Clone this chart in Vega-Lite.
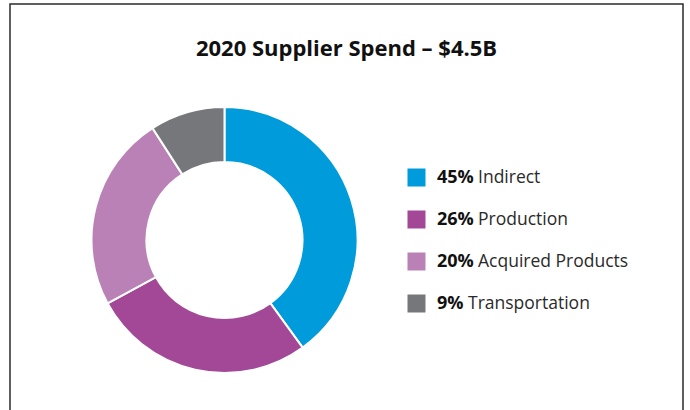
{
  "$schema": "https://vega.github.io/schema/vega-lite/v6.json",
  "width": 673,
  "height": 472,
  "autosize": {"type": "none"},
  "padding": {"left": 10, "top": 4, "right": 7, "bottom": 0},
  "background": "white",
  "title": {
    "text": "2020 Supplier Spend – $4.5B",
    "anchor": "middle",
    "frame": "group",
    "orient": "top",
    "baseline": "middle",
    "offset": -67,
    "font": "Open Sans",
    "fontSize": 22,
    "fontWeight": "bold",
    "color": "#111111"
  },
  "data": {
    "values": [
      {"category": "Indirect", "pct": "45%", "angle": 40.0},
      {"category": "Production", "pct": "26%", "angle": 27.1},
      {"category": "Acquired Products", "pct": "20%", "angle": 23.8},
      {"category": "Transportation", "pct": "9%", "angle": 9.1}
    ]
  },
  "layer": [
    {
      "mark": {"type": "arc", "innerRadius": 78, "outerRadius": 133, "stroke": "white", "strokeWidth": 2},
      "encoding": {
        "theta": {"field": "angle", "type": "quantitative", "stack": true},
        "order": {"field": "angle", "type": "quantitative", "sort": "descending"},
        "color": {
          "field": "category", "type": "nominal", "legend": null,
          "scale": {
            "domain": ["Indirect", "Production", "Acquired Products", "Transportation"],
            "range": ["#009BDB", "#A24896", "#BA81B7", "#76777B"]
          }
        },
        "x": {"datum": 31.87, "type": "quantitative", "scale": {"domain": [0, 100], "nice": false, "zero": false}, "axis": null}
      }
    },
    {
      "mark": {"type": "square", "size": 324, "filled": true, "opacity": 1},
      "encoding": {
        "x": {"datum": 60.4, "type": "quantitative"},
        "y": {"field": "category", "type": "nominal", "axis": null,
              "scale": {"type": "point", "domain": ["Indirect", "Production", "Acquired Products", "Transportation"], "range": [173.5, 299.5], "padding": 0}},
        "color": {"field": "category", "type": "nominal", "legend": null}
      }
    },
    {
      "mark": {"type": "text", "align": "left", "baseline": "middle", "font": "Open Sans", "fontSize": 18, "fontWeight": "bold", "color": "#111111"},
      "encoding": {
        "x": {"datum": 63.45, "type": "quantitative"},
        "y": {"field": "category", "type": "nominal"},
        "text": {"field": "pct"}
      }
    },
    {
      "mark": {"type": "text", "align": "left", "baseline": "middle", "font": "Open Sans", "fontSize": 17.5, "fontWeight": "normal", "color": "#2a2a2a",
               "dx": {"expr": "10 * length(datum.pct) + 11"}},
      "encoding": {
        "x": {"datum": 63.45, "type": "quantitative"},
        "y": {"field": "category", "type": "nominal"},
        "text": {"field": "category"}
      }
    }
  ],
  "config": {
    "view": {"stroke": "#2b2b2b", "strokeWidth": 1.5}
  }
}
